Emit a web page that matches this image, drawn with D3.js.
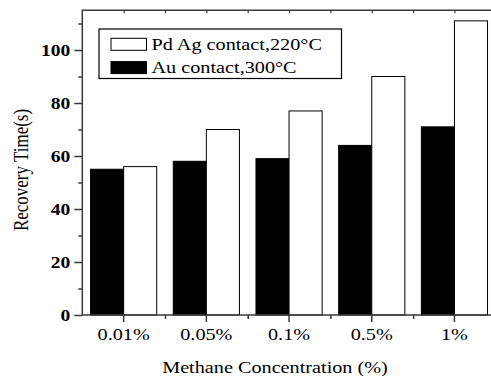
<!DOCTYPE html>
<html>
<head>
<meta charset="utf-8">
<script src="https://cdn.jsdelivr.net/npm/d3@7"></script>
<style>
  html, body { margin: 0; padding: 0; background: #fff; }
  svg { display: block; overflow: hidden; }
</style>
</head>
<body>
<div id="chart"></div>
<script>
const categories = ['0.01%', '0.05%', '0.1%', '0.5%', '1%']
const auValues = [55, 58, 59, 64, 71]
const pdAgValues = [56, 70, 77, 90, 111]
const seriesNames = ['Pd Ag contact,220°C', 'Au contact,300°C']
const majorTicks = [0, 20, 40, 60, 80, 100]
const minorTicks = [10, 30, 50, 70, 90, 110]

const width = 491
const height = 376
const plot = { left: 82.3, right: 495.8, top: 10.25, bottom: 315 }
const stretch = 1.19
const frameColor = '#3a3a3a'
const serif = "'Liberation Serif', 'Times New Roman', 'DejaVu Serif', serif"

const svg = d3.select('#chart')
  .append('svg')
  .attr('width', width)
  .attr('height', height)

const x = d3.scaleBand()
  .domain(categories)
  .range([plot.left, plot.right])
  .paddingInner(0.2)
  .paddingOuter(0.1)

const sub = d3.scaleBand()
  .domain(['au', 'pdag'])
  .range([0, x.bandwidth()])

const y = d3.scaleLinear()
  .domain([0, 115])
  .range([plot.bottom, plot.top])

const rows = categories.map((c, i) => ({ cat: c, au: auValues[i], pdag: pdAgValues[i] }))

// bars
const groups = svg.append('g')
  .selectAll('g')
  .data(rows)
  .join('g')
    .attr('transform', d => `translate(${x(d.cat)},0)`)

groups.selectAll('rect')
  .data(d => [{ key: 'au', v: d.au }, { key: 'pdag', v: d.pdag }])
  .join('rect')
    .attr('x', d => sub(d.key))
    .attr('y', d => y(d.v))
    .attr('width', sub.bandwidth())
    .attr('height', d => y(0) - y(d.v))
    .attr('fill', d => d.key === 'au' ? '#000' : '#fff')
    .attr('stroke', '#000')
    .attr('stroke-width', 1)

// frame
svg.append('rect')
  .attr('x', plot.left)
  .attr('y', y(115))
  .attr('width', plot.right - plot.left)
  .attr('height', y(0) - y(115))
  .attr('fill', 'none')
  .attr('stroke', frameColor)
  .attr('stroke-width', 1.5)

// left axis
const yAxis = svg.append('g')
  .attr('transform', `translate(${plot.left},0)`)
  .call(d3.axisLeft(y).tickValues(majorTicks).tickSize(8).tickPadding(4))
yAxis.select('.domain').remove()
yAxis.selectAll('line').attr('stroke', frameColor).attr('stroke-width', 1.5)
yAxis.selectAll('text')
  .attr('x', -12 / 1.15)
  .attr('transform', 'scale(1.15,1)')
  .style('font-family', serif)
  .style('font-size', '17px')
  .style('font-weight', 'bold')

const yMinor = svg.append('g')
  .attr('transform', `translate(${plot.left},0)`)
  .call(d3.axisLeft(y).tickValues(minorTicks).tickSize(4).tickFormat(''))
yMinor.select('.domain').remove()
yMinor.selectAll('line').attr('stroke', frameColor).attr('stroke-width', 1.5)

// bottom axis
const xAxis = svg.append('g')
  .attr('transform', `translate(0,${plot.bottom})`)
  .call(d3.axisBottom(x).tickSize(7).tickPadding(6))
xAxis.select('.domain').remove()
xAxis.selectAll('line').attr('stroke', frameColor).attr('stroke-width', 1.5)
xAxis.selectAll('text')
  .attr('transform', `scale(${stretch},1)`)
  .style('font-family', serif)
  .style('font-size', '17px')

const edge = d3.scaleLinear().domain(x.range()).range(x.range())
const boundaries = categories.map(c => x(c) + x.bandwidth() / 2 + x.step() / 2)

const xMinor = svg.append('g')
  .attr('transform', `translate(0,${plot.bottom})`)
  .call(d3.axisBottom(edge).tickValues(boundaries).tickSize(4).tickFormat(''))
xMinor.select('.domain').remove()
xMinor.selectAll('line').attr('stroke', frameColor).attr('stroke-width', 1.5)

// top axis ticks
const centers = categories.map(c => x(c) + x.bandwidth() / 2)
const xTop = svg.append('g')
  .attr('transform', `translate(0,${y(115)})`)
  .call(d3.axisBottom(edge).tickValues(centers.concat(boundaries)).tickSize(3).tickFormat(''))
xTop.select('.domain').remove()
xTop.selectAll('line').attr('stroke', frameColor).attr('stroke-width', 1.2)

// axis titles
svg.append('text')
  .attr('transform', `translate(275,372.5) scale(${stretch},1)`)
  .attr('text-anchor', 'middle')
  .style('font-family', serif)
  .style('font-size', '17px')
  .text('Methane Concentration (%)')

svg.append('text')
  .attr('transform', `translate(27.5,170) scale(${stretch},1) rotate(-90)`)
  .attr('text-anchor', 'middle')
  .style('font-family', serif)
  .style('font-size', '17px')
  .text('Recovery Time(s)')

// legend
const legend = svg.append('g')
legend.append('rect')
  .attr('x', 99).attr('y', 29)
  .attr('width', 242.5).attr('height', 49.5)
  .attr('fill', '#fff')
  .attr('stroke', '#000')
  .attr('stroke-width', 1.2)

const legendFills = ['#fff', '#000']
const legendRows = legend.selectAll('g.item')
  .data(seriesNames)
  .join('g')
    .attr('class', 'item')
    .attr('transform', (d, i) => `translate(111,${38.3 + i * 23.3})`)

legendRows.append('rect')
  .attr('width', 35.5)
  .attr('height', 12)
  .attr('fill', (d, i) => legendFills[i])
  .attr('stroke', '#000')
  .attr('stroke-width', 1)

legendRows.append('text')
  .attr('transform', `translate(40.5,11.5) scale(${stretch},1)`)
  .style('font-family', serif)
  .style('font-size', '17px')
  .text(d => d)
</script>
</body>
</html>
